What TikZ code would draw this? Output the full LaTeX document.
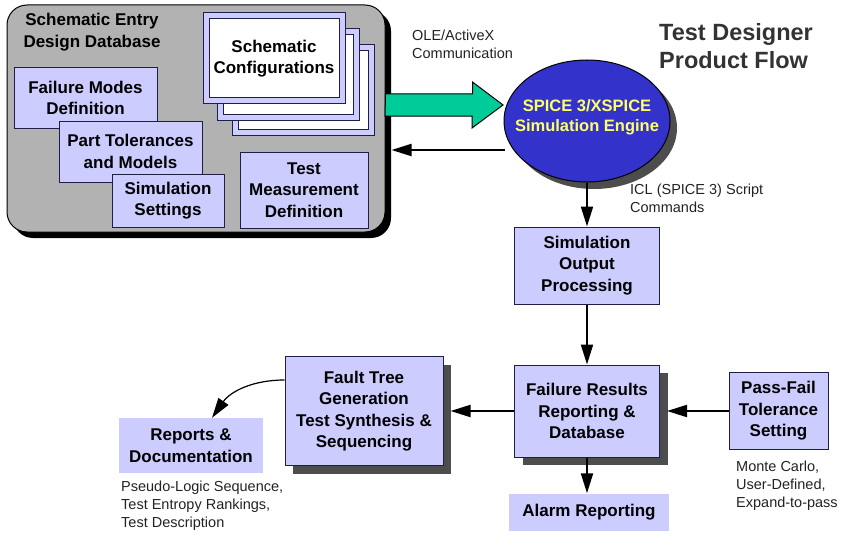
\documentclass[tikz,border=0pt]{standalone}
\usepackage{fontspec}
\setmainfont{Liberation Sans}
\usepackage{tikz}
\usetikzlibrary{positioning,shapes.geometric,shadows,arrows.meta,calc}

\definecolor{lav}{RGB}{204,204,255}
\definecolor{edge}{RGB}{30,30,70}
\definecolor{dbgray}{RGB}{178,178,178}
\definecolor{spice}{RGB}{51,51,204}
\definecolor{yel}{RGB}{255,255,102}
\definecolor{ole}{RGB}{0,204,153}
\definecolor{shgray}{RGB}{77,77,77}
\definecolor{txt}{RGB}{34,34,34}
\definecolor{ttl}{RGB}{51,51,51}

\newcommand\boxfont{\fontsize{17}{21.5}\selectfont\bfseries}
\newcommand\notefont{\fontsize{14.5}{18}\selectfont}
\newcommand\enginefont{\fontsize{16.5}{20}\selectfont\bfseries}
\newcommand\titlefont{\fontsize{23.5}{28}\selectfont\bfseries}

\begin{document}
\begin{tikzpicture}[x=1pt,y=-1pt]
\tikzstyle{box}=[rectangle, draw=edge, line width=1pt, fill=lav, inner sep=0pt, align=center, font=\boxfont]
\tikzstyle{flat}=[rectangle, fill=lav, inner sep=0pt, align=center, font=\boxfont]
\tikzstyle{shade}=[drop shadow={shadow xshift=8pt, shadow yshift=-8pt, fill=shgray, opacity=1}]
\tikzstyle{note}=[anchor=north west, inner sep=0pt, align=left, text=txt, font=\notefont]
\tikzstyle{connect}=[-{Triangle[length=20pt,width=12pt]}, line width=2pt]
\tikzstyle{frame}=[rectangle, draw=edge, line width=1pt, fill=lav, minimum width=142, minimum height=91]
\tikzstyle{sheet}=[rectangle, draw=edge, line width=1pt, fill=white, minimum width=130, minimum height=79]
  \useasboundingbox (0,0) rectangle (852,535);

  \node[rectangle, rounded corners=20pt, draw=black, line width=1pt, fill=dbgray, minimum width=378, minimum height=227,
        drop shadow={shadow xshift=6pt, shadow yshift=-6pt, fill=black, opacity=1}] (db) at (196,118.5) {};
  \node[font=\boxfont, align=center, inner sep=0pt] (dbtitle) at (92,32) {Schematic Entry\\Design Database};

  \foreach \n/\x/\y in {c/303.5/90, b/288.5/74.5, a/274/58.5}
  {
    \node[frame] (cfg\n) at (\x,\y) {};
    \node[sheet] (sheet\n) at (cfg\n) {};
  }
  \node[font=\boxfont, align=center, inner sep=0pt] (cfgtext) at (sheeta) {Schematic\\Configurations};

  \node[box, minimum width=143, minimum height=60] (fmd) at (85.5,98) {Failure Modes\\Definition};
  \node[box, minimum width=143, minimum height=61] (ptm) at (130.5,151.5) {Part Tolerances\\and Models};
  \node[box, minimum width=112, minimum height=53] (sims) at (168,200.5) {Simulation\\Settings};
  \node[box, minimum width=128, minimum height=76] (tmd) at (304,190) {Test\\Measurement\\Definition};

  \node[ellipse, draw=black, line width=1pt, fill=spice, minimum width=166, minimum height=122, inner sep=0pt,
        drop shadow={shadow xshift=7pt, shadow yshift=-7pt, fill=shgray, opacity=1}] (engine) at (587,121) {};
  \node[align=center, text=yel, font=\enginefont, inner sep=0pt] (enginetext) at ([yshift=4pt]engine.center) {SPICE 3/XSPICE\\Simulation Engine};

  \node[box, minimum width=145, minimum height=77] (sop) at (587,265.5) {Simulation\\Output\\Processing};
  \node[box, shade, minimum width=145, minimum height=92] (frd) at (587,411) {Failure Results\\Reporting \&\\Database};
  \node[flat, minimum width=160, minimum height=37] (alarm) at (589,512) {Alarm Reporting};
  \node[box, minimum width=99, minimum height=77] (pf) at (778.5,411) {Pass-Fail\\Tolerance\\Setting};
  \node[box, shade, minimum width=158, minimum height=109] (ftg) at (364,411) {Fault Tree\\Generation\\Test Synthesis \&\\Sequencing};
  \node[flat, minimum width=144, minimum height=55] (rep) at (191,445.5) {Reports \&\\Documentation};

  \node[note] (ole) at (412,30) {OLE/ActiveX\\Communication};
  \node[note] (icl) at (630,184) {ICL (SPICE 3) Script\\Commands};
  \node[note] (mc) at (736,461) {Monte Carlo,\\User-Defined,\\Expand-to-pass};
  \node[note] (pls) at (121,481) {Pseudo-Logic Sequence,\\Test Entropy Rankings,\\Test Description};
  \node[anchor=north west, inner sep=0pt, align=left, text=ttl, font=\titlefont] (title) at (659,23) {Test Designer\\Product Flow};

  \coordinate (olein) at (503,105);
  \draw[draw=black, line width=1pt, fill=ole] (db.east |- olein) ++(0,-11) -- ++(87,0) -- ++(0,-12) -- (olein)
    -- ++(-31,23) -- ++(0,-12) -- ++(-87,0) -- cycle;
  \coordinate (back) at (505,150);
  \draw[connect] (back) -- ($(back -| db.east)+(6,0)$);

  \draw[connect] (engine.south) -- (sop.north);
  \draw[connect] (sop.south) -- (frd.north);
  \draw[connect] (frd.south) -- (alarm.north -| frd.south);
  \draw[connect] (pf.west) -- ($(frd.east)+(7,0)$);
  \draw[connect] (frd.west) -- ($(ftg.east)+(7,0)$);
  \draw[-{Triangle[length=20pt,width=12pt]}, line width=1.2pt] ([yshift=31pt]ftg.west) to[out=180, in=55] ($(rep.north)+(21,0)$);
\end{tikzpicture}
\end{document}
